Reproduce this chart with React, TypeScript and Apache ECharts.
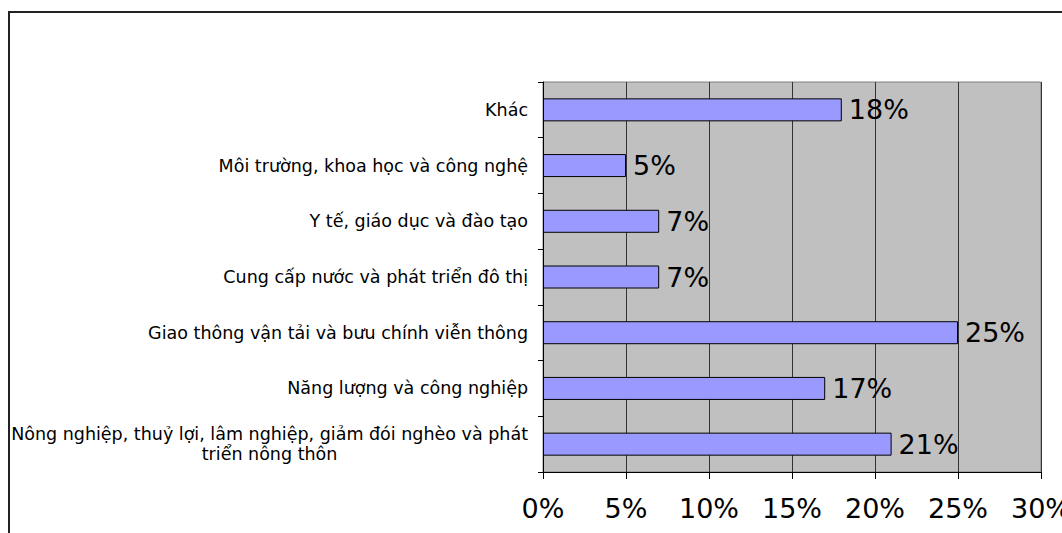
import React, { useEffect, useRef } from "react";
import * as echarts from "echarts";

const categories = [
  "Nông nghiệp, thuỷ lợi, lâm nghiệp, giảm đói nghèo và phát\ntriển nông thôn",
  "Năng lượng và công nghiệp",
  "Giao thông vận tải và bưu chính viễn thông",
  "Cung cấp nước và phát triển đô thị",
  "Y tế, giáo dục và đào tạo",
  "Môi trường, khoa học và công nghệ",
  "Khác",
];
const values = [21, 17, 25, 7, 7, 5, 18];
const xTicks = [0, 5, 10, 15, 20, 25, 30];

const FONT = "DejaVu Sans";

export default function App() {
  const ref = useRef<HTMLDivElement>(null);
  useEffect(() => {
    if (!ref.current) return;
    const chart = echarts.init(ref.current, undefined, { renderer: "svg" });
    chart.setOption({
      animation: false,
      backgroundColor: "#ffffff",
      graphic: [
        {
          type: "rect",
          shape: { x: 9, y: 12, width: 1100, height: 600 },
          style: { fill: "none", stroke: "#222", lineWidth: 2 },
          silent: true,
        },
      ],
      grid: {
        left: 543,
        top: 82,
        right: 21,
        bottom: 61,
        show: true,
        backgroundColor: "#C0C0C0",
        borderColor: "#808080",
        borderWidth: 1,
        containLabel: false,
        outerBoundsMode: "none",
      },
      xAxis: {
        type: "value",
        min: xTicks[0],
        max: xTicks[xTicks.length - 1],
        interval: 5,
        axisLine: { show: true, lineStyle: { color: "#000", width: 1 } },
        axisTick: { show: true, length: 7, lineStyle: { color: "#000" } },
        splitLine: { show: true, lineStyle: { color: "#333", width: 1 } },
        axisLabel: {
          formatter: "{value}%",
          fontFamily: FONT,
          fontSize: 27,
          color: "#000",
          margin: 23,
        },
      },
      yAxis: {
        type: "category",
        data: categories,
        axisLine: { show: true, lineStyle: { color: "#000", width: 1 } },
        axisTick: { show: true, length: 5, lineStyle: { color: "#000" } },
        splitLine: { show: false },
        axisLabel: {
          fontFamily: FONT,
          fontSize: 17.5,
          color: "#000",
          margin: 15,
          lineHeight: 20,
          formatter: (v: string) =>
            v
              .split("\n")
              .map((l) => "{c|" + l + "}")
              .join("\n"),
          rich: {
            c: {
              align: "center",
              fontFamily: FONT,
              fontSize: 17.5,
              color: "#000",
              lineHeight: 20,
            },
          },
        },
      },
      series: [
        {
          type: "bar",
          data: values,
          barWidth: 23,
          itemStyle: { color: "#9999FF", borderColor: "#000", borderWidth: 1 },
          label: {
            show: true,
            position: "right",
            distance: 7,
            formatter: "{c}%",
            fontFamily: FONT,
            fontSize: 27,
            color: "#000",
          },
        },
      ],
    });
    return () => chart.dispose();
  }, []);
  return (
    <div
      ref={ref}
      style={{ position: "absolute", left: 0, top: 0, width: 1062, height: 533 }}
    />
  );
}
